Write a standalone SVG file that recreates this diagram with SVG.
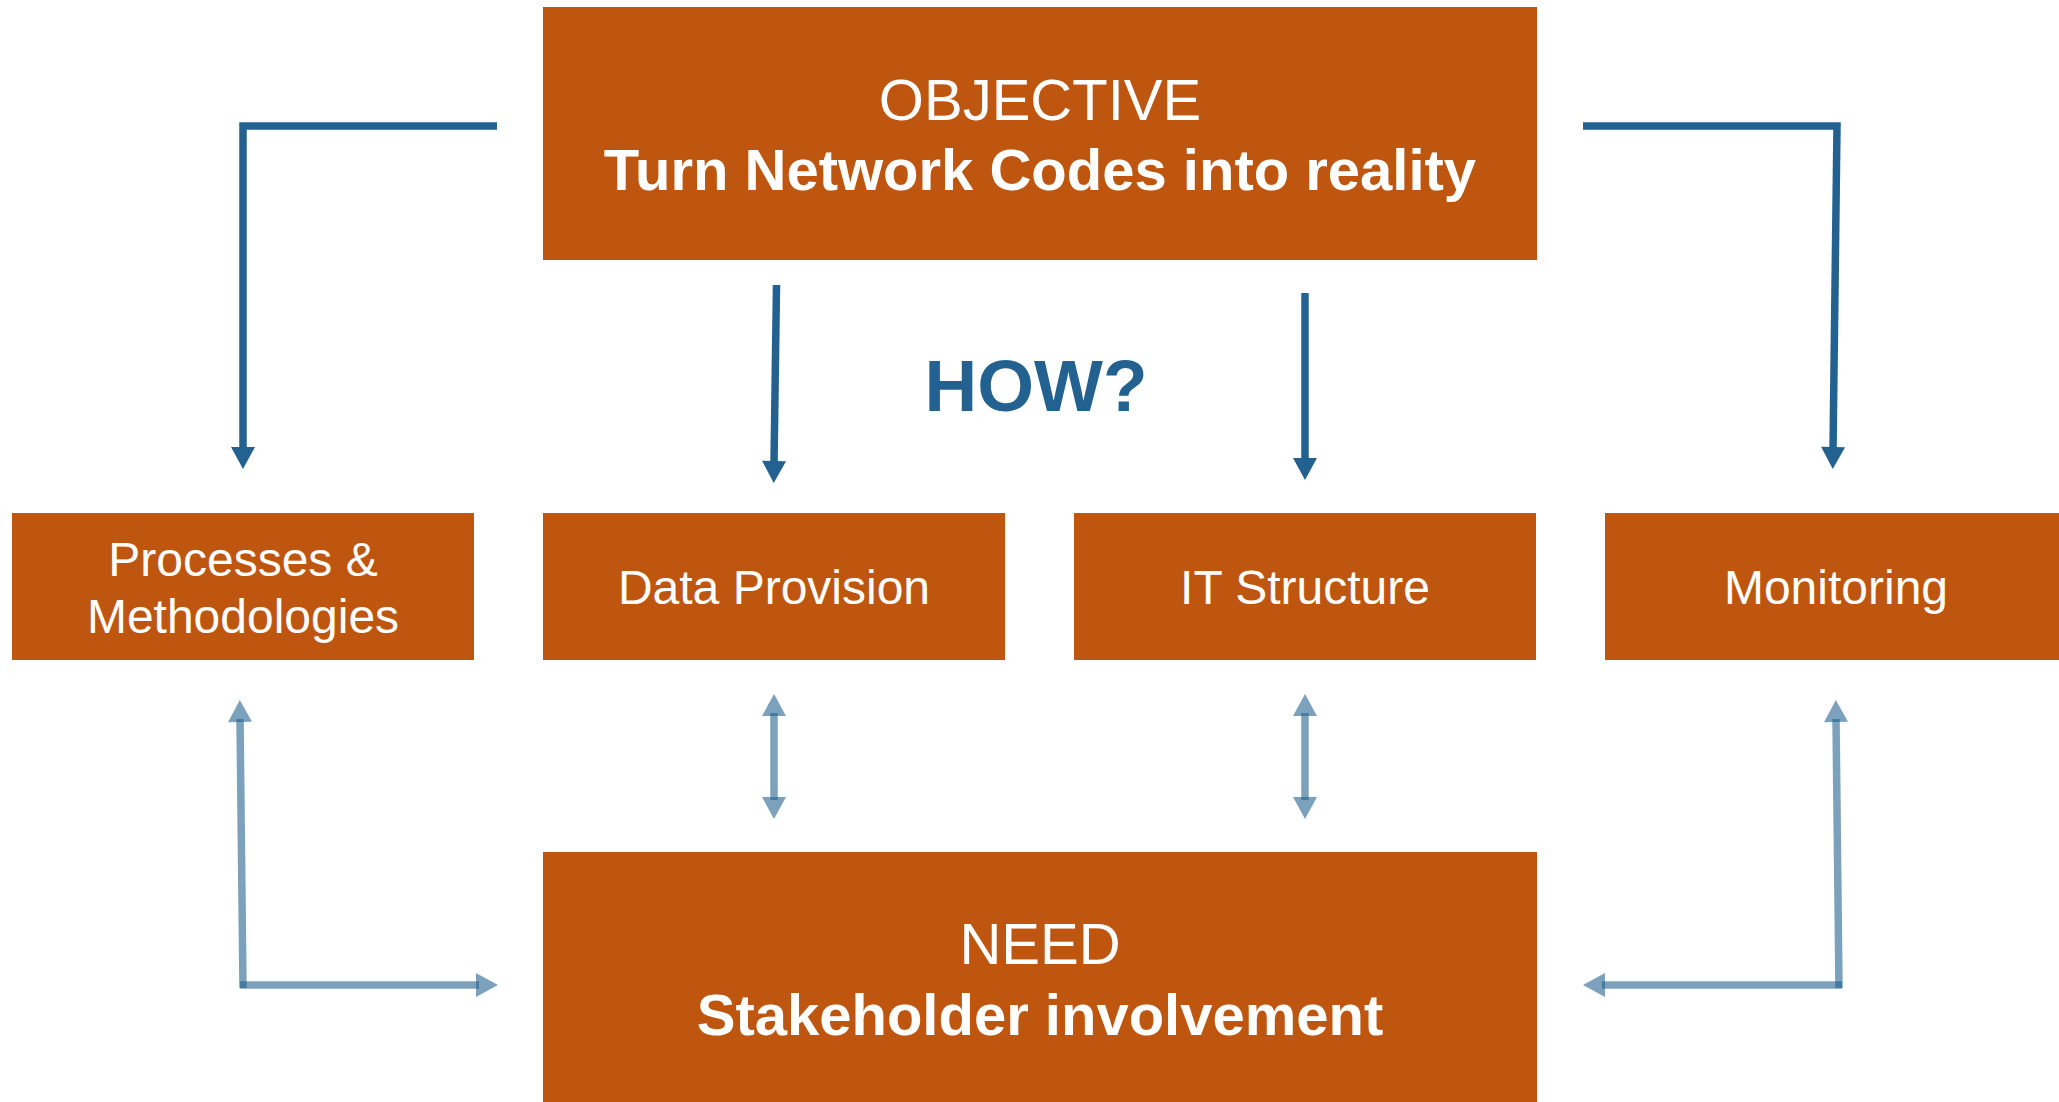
<svg xmlns="http://www.w3.org/2000/svg" width="2059" height="1102" viewBox="0 0 2059 1102">
  <style>
    .box { fill: #BF5610; }
    .lbl { fill: #FFFFFF; font-family: "Liberation Sans", Arial, sans-serif; text-anchor: middle; }
    .reg { font-weight: normal; }
    .bold { font-weight: bold; }
    .dark { fill: none; stroke: #236290; stroke-width: 7.5; stroke-linecap: butt; stroke-linejoin: miter; }
    .light { fill: none; stroke: #236290; stroke-opacity: 0.6; stroke-width: 7.5; stroke-linecap: butt; }
    .how { fill: #236290; font-family: "Liberation Sans", Arial, sans-serif; font-weight: bold; text-anchor: middle; }
  </style>
  <defs>
    <marker id="headDark" markerUnits="userSpaceOnUse" orient="auto" refX="3" refY="0" markerWidth="30" markerHeight="30" viewBox="0 -15 30 30" overflow="visible">
      <path d="M0,-12 L22,0 L0,12 Z" fill="#236290"/>
    </marker>
    <marker id="headLight" markerUnits="userSpaceOnUse" orient="auto-start-reverse" refX="3" refY="0" markerWidth="30" markerHeight="30" viewBox="0 -15 30 30" overflow="visible">
      <path d="M0,-12 L22,0 L0,12 Z" fill="#236290" fill-opacity="0.6"/>
    </marker>
  </defs>
  <rect width="2059" height="1102" fill="#FFFFFF"/>

  <g id="objective">
    <rect class="box" x="543" y="7" width="994" height="253"/>
    <text class="lbl reg" x="1040" y="120" font-size="58">OBJECTIVE</text>
    <text class="lbl bold" x="1040" y="190" font-size="58">Turn Network Codes into reality</text>
  </g>

  <g id="how">
    <text class="how" x="1036" y="411" font-size="73">HOW?</text>
  </g>

  <g id="processes">
    <rect class="box" x="12" y="513" width="462" height="147"/>
    <text class="lbl reg" x="243" y="576" font-size="48">Processes &amp;</text>
    <text class="lbl reg" x="243" y="633" font-size="48">Methodologies</text>
  </g>

  <g id="data-provision">
    <rect class="box" x="543" y="513" width="462" height="147"/>
    <text class="lbl reg" x="774" y="604" font-size="48">Data Provision</text>
  </g>

  <g id="it-structure">
    <rect class="box" x="1074" y="513" width="462" height="147"/>
    <text class="lbl reg" x="1305" y="604" font-size="48">IT Structure</text>
  </g>

  <g id="monitoring">
    <rect class="box" x="1605" y="513" width="462" height="147"/>
    <text class="lbl reg" x="1836" y="604" font-size="48">Monitoring</text>
  </g>

  <g id="need">
    <rect class="box" x="543" y="852" width="994" height="260"/>
    <text class="lbl reg" x="1040" y="964" font-size="58">NEED</text>
    <text class="lbl bold" x="1040" y="1035" font-size="58">Stakeholder involvement</text>
  </g>

  <g id="connectors">
    <!-- objective to the four columns -->
    <path class="dark" d="M497,126 H243 V450" marker-end="url(#headDark)"/>
    <path class="dark" d="M776.5,285 L774,464" marker-end="url(#headDark)"/>
    <path class="dark" d="M1305,293 L1305,461" marker-end="url(#headDark)"/>
    <path class="dark" d="M1583,126 H1837 L1833,450" marker-end="url(#headDark)"/>

    <!-- need to columns (two-way) -->
    <path class="light" d="M243,988 L240,719" marker-end="url(#headLight)"/>
    <path class="light" d="M240,985 L479,985" marker-end="url(#headLight)"/>
    <path class="light" d="M774,713 L774,800" marker-start="url(#headLight)" marker-end="url(#headLight)"/>
    <path class="light" d="M1305,713 L1305,800" marker-start="url(#headLight)" marker-end="url(#headLight)"/>
    <path class="light" d="M1839,988 L1836,719" marker-end="url(#headLight)"/>
    <path class="light" d="M1842,985 L1602,985" marker-end="url(#headLight)"/>
  </g>
</svg>
